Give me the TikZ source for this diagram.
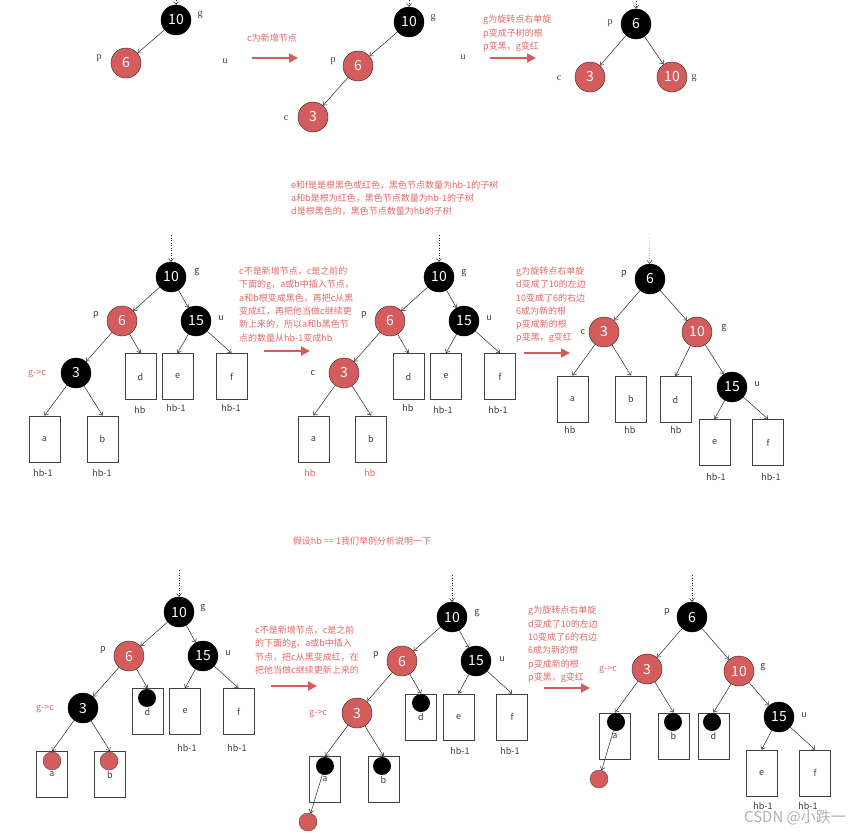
\documentclass[tikz,border=0pt]{standalone}
\usepackage{fontspec}
\setmainfont{Noto Sans CJK SC}
\newfontfamily\tagserif{Liberation Serif}
\usepackage{tikz}
\usetikzlibrary{arrows.meta}
\definecolor{rbred}{RGB}{213,92,92}
\definecolor{notered}{RGB}{226,104,104}
\definecolor{tagdark}{RGB}{60,60,60}
\tikzset{
  blacknode/.style={
    circle,
    fill=black,
    draw=black,
    minimum size=30pt,
    inner sep=0pt,
    text=white,
    font=\fontsize{14}{14}\selectfont
  },
  rednode/.style={
    blacknode,
    fill=rbred,
    draw=black!85
  },
  leafbox/.style={
    rectangle,
    draw=black!75,
    line width=0.9pt,
    minimum width=31pt,
    minimum height=46pt,
    inner sep=0pt,
    text=tagdark,
    font=\fontsize{9}{9}\selectfont
  },
  blackdot/.style={
    circle,
    fill=black,
    minimum size=18pt,
    inner sep=0pt
  },
  reddot/.style={
    blackdot,
    fill=rbred,
    draw=black!70,
    thin
  },
  tag/.style={
    inner sep=0pt,
    text=tagdark,
    font=\fontsize{9}{9}\selectfont
  },
  toptag/.style={
    tag,
    font=\fontsize{10}{10}\tagserif
  },
  redtag/.style={
    tag,
    text=notered
  },
  note/.style={
    inner sep=0pt,
    align=left,
    text=notered,
    font=\fontsize{9}{13.3}\selectfont
  },
  treearrow/.style={
    -{Straight Barb[length=3pt,width=5pt]},
    draw=black!85,
    line width=0.5pt
  },
  entryarrow/.style={
    treearrow,
    dotted
  },
  steparrow/.style={
    -{Triangle[length=9pt,width=9pt]},
    draw=rbred,
    line width=1.8pt
  }
}

\begin{document}
\begin{tikzpicture}[x=1pt,y=-1pt]
\useasboundingbox (0,0) rectangle (856,833);

% ---- first row: c is a new node
\node[blacknode] (gA) at (176,20) {10};
\node[rednode] (pA) at (126,63) {6};
\node[toptag] (tgA) at (200,15) {g};
\node[toptag] (tpA) at (99,58) {p};
\node[toptag] (tuA) at (225,61) {u};
\coordinate (inA) at (176,-20);
\draw[entryarrow] (inA) -- (gA);
\draw[treearrow] (gA) -- (pA);

\coordinate (s1a) at (252,58);
\coordinate (s1b) at (298,58);
\draw[steparrow] (s1a) -- (s1b);
\node[note] (n1) at (272,38) {c为新增节点};

\node[blacknode] (gB) at (409,22) {10};
\node[rednode] (pB) at (358,66) {6};
\node[rednode] (cB) at (313,117) {3};
\node[toptag] (tgB) at (433,18) {g};
\node[toptag] (tpB) at (333,61) {p};
\node[toptag] (tcB) at (286,118) {c};
\node[toptag] (tuB) at (463,57) {u};
\coordinate (inB) at (409,-20);
\draw[entryarrow] (inB) -- (gB);
\draw[treearrow] (gB) -- (pB);
\draw[treearrow] (pB) -- (cB);

\coordinate (s2a) at (490,58);
\coordinate (s2b) at (536,58);
\draw[steparrow] (s2a) -- (s2b);
\node[note, anchor=west] (n2) at (483,33.5) {g为旋转点右单旋\\p变成子树的根\\p变黑，g变红};

\node[blacknode] (pC) at (636,24) {6};
\node[rednode] (cC) at (590,77) {3};
\node[rednode] (gC) at (672,77) {10};
\node[toptag] (tpC) at (610,23) {p};
\node[toptag] (tcC) at (559,78) {c};
\node[toptag] (tgC) at (694,78) {g};
\coordinate (inC) at (636,-14);
\draw[entryarrow] (inC) -- (pC);
\draw[treearrow] (pC) -- (cC);
\draw[treearrow] (pC) -- (gC);

% ---- second row: c came up from below
\node[note, anchor=west] (nM) at (291,198) {e和f是是根黑色或红色，黑色节点数量为hb-1的子树\\a和b是根为红色，黑色节点数量为hb-1的子树\\d是根黑色的，黑色节点数量为hb的子树};

\node[blacknode] (gD) at (171,277) {10};
\node[rednode] (pD) at (122,321) {6};
\node[blacknode] (uD) at (196,321) {15};
\node[blacknode] (cD) at (76,373) {3};
\node[leafbox] (dD) at (140.5,376.5) {d};
\node[leafbox] (eD) at (177.5,376.5) {e};
\node[leafbox] (fD) at (231.5,376.5) {f};
\node[leafbox] (aD) at (44.5,439) {a};
\node[leafbox] (bD) at (102.5,439) {b};
\node[tag] (tgD) at (197,272) {g};
\node[tag] (tpD) at (96,315) {p};
\node[tag] (tuD) at (221,318) {u};
\node[redtag] (tcD) at (37,374) {g->c};
\node[tag] (hdD) at (140,410) {hb};
\node[tag] (heD) at (176,408) {hb-1};
\node[tag] (hfD) at (231,408) {hb-1};
\node[tag] (haD) at (43,473) {hb-1};
\node[tag] (hbD) at (102,473) {hb-1};
\coordinate (inD) at (171,235);
\draw[entryarrow] (inD) -- (gD);
\draw[treearrow] (gD) -- (pD);
\draw[treearrow] (gD) -- (uD);
\draw[treearrow] (pD) -- (cD);
\draw[treearrow] (pD) -- (dD.north);
\draw[treearrow] (uD) -- (eD.north);
\draw[treearrow] (uD) -- (fD.north);
\draw[treearrow] (cD) -- (aD.north);
\draw[treearrow] (cD) -- (bD.north);

\node[note, anchor=west] (nD) at (239,304.5) {c不是新增节点，c是之前的\\下面的g，a或b中插入节点，\\a和b根变成黑色，再把c从黑\\变成红，再把他当做c继续更\\新上来的，所以a和b黑色节\\点的数量从hb-1变成hb};
\coordinate (s3a) at (264,351);
\coordinate (s3b) at (310,351);
\draw[steparrow] (s3a) -- (s3b);

\node[blacknode] (gE) at (439,277) {10};
\node[rednode] (pE) at (390,321) {6};
\node[blacknode] (uE) at (464,321) {15};
\node[rednode] (cE) at (344,373) {3};
\node[leafbox] (dE) at (408.5,376.5) {d};
\node[leafbox] (eE) at (446,376.5) {e};
\node[leafbox] (fE) at (500,376.5) {f};
\node[leafbox] (aE) at (313.5,439) {a};
\node[leafbox] (bE) at (371,439) {b};
\node[tag] (tgE) at (464,273) {g};
\node[tag] (tpE) at (364,315) {p};
\node[tag] (tuE) at (489,318) {u};
\node[tag] (tcE) at (313,373) {c};
\node[tag] (hdE) at (408,408) {hb};
\node[tag] (heE) at (443,410) {hb-1};
\node[tag] (hfE) at (498,410) {hb-1};
\node[redtag] (haE) at (310,473) {hb};
\node[redtag] (hbE) at (370,473) {hb};
\coordinate (inE) at (439,235);
\draw[entryarrow] (inE) -- (gE);
\draw[treearrow] (gE) -- (pE);
\draw[treearrow] (gE) -- (uE);
\draw[treearrow] (pE) -- (cE);
\draw[treearrow] (pE) -- (dE.north);
\draw[treearrow] (uE) -- (eE.north);
\draw[treearrow] (uE) -- (fE.north);
\draw[treearrow] (cE) -- (aE.north);
\draw[treearrow] (cE) -- (bE.north);

\node[note, anchor=west] (nE) at (516,305) {g为旋转点右单旋\\d变成了10的左边\\10变成了6的右边\\6成为新的根\\p变成新的根\\p变黑，g变红};
\coordinate (s4a) at (524,353);
\coordinate (s4b) at (570,353);
\draw[steparrow] (s4a) -- (s4b);

\node[blacknode] (pF) at (650,279) {6};
\node[rednode] (cF) at (604,332) {3};
\node[rednode] (gF) at (697,332) {10};
\node[blacknode] (uF) at (732,387) {15};
\node[leafbox] (aF) at (572.5,399) {a};
\node[leafbox] (bF) at (631,399) {b};
\node[leafbox] (dF) at (675.5,399.5) {d};
\node[leafbox] (eF) at (714.5,442.5) {e};
\node[leafbox] (fF) at (768,442.5) {f};
\node[tag] (tpF) at (624,274) {p};
\node[tag] (tcF) at (583,332) {c};
\node[tag] (tgF) at (724,328) {g};
\node[tag] (tuF) at (757,384) {u};
\node[tag] (haF) at (570,430) {hb};
\node[tag] (hbF) at (630,430) {hb};
\node[tag] (hdF) at (676,430) {hb};
\node[tag] (heF) at (716,477) {hb-1};
\node[tag] (hfF) at (771,477) {hb-1};
\coordinate (inF) at (649,238);
\draw[entryarrow] (inF) -- (pF);
\draw[treearrow] (pF) -- (cF);
\draw[treearrow] (pF) -- (gF);
\draw[treearrow] (cF) -- (aF.north);
\draw[treearrow] (cF) -- (bF.north);
\draw[treearrow] (gF) -- (dF.north);
\draw[treearrow] (gF) -- (uF);
\draw[treearrow] (uF) -- (eF.north);
\draw[treearrow] (uF) -- (fF.north);

% ---- third row: hb == 1
\node[note] (nB) at (362,541) {假设hb == 1我们举例分析说明一下};

\node[blacknode] (gG) at (179,612) {10};
\node[rednode] (pG) at (129,656) {6};
\node[blacknode] (uG) at (203,656) {15};
\node[blacknode] (cG) at (83,708) {3};
\node[leafbox] (dG) at (147.5,711.5) {d};
\node[leafbox] (eG) at (185,711.5) {e};
\node[leafbox] (fG) at (238.5,711.5) {f};
\node[leafbox] (aG) at (52,774.5) {a};
\node[leafbox] (bG) at (110,774.5) {b};
\node[tag] (tgG) at (203,608) {g};
\node[tag] (tpG) at (103,650) {p};
\node[tag] (tuG) at (228,653) {u};
\node[redtag] (tcG) at (45,709) {g->c};
\node[tag] (heG) at (187,748) {hb-1};
\node[tag] (hfG) at (237,748) {hb-1};
\coordinate (inG) at (179,570);
\draw[entryarrow] (inG) -- (gG);
\draw[treearrow] (gG) -- (pG);
\draw[treearrow] (gG) -- (uG);
\draw[treearrow] (pG) -- (cG);
\draw[treearrow] (pG) -- (dG.north);
\draw[treearrow] (uG) -- (eG.north);
\draw[treearrow] (uG) -- (fG.north);
\draw[treearrow] (cG) -- (aG.north);
\draw[treearrow] (cG) -- (bG.north);
\node[blackdot] (ddG) at (147,698) {};
\node[reddot] (daG) at (52,761) {};
\node[reddot] (dbG) at (109,761) {};

\node[note, anchor=west] (nG) at (255,650) {c不是新增节点，c是之前\\的下面的g，a或b中插入\\节点，把c从黑变成红，在\\把他当做c继续更新上来的};
\coordinate (s5a) at (271,686);
\coordinate (s5b) at (317,686);
\draw[steparrow] (s5a) -- (s5b);

\node[blacknode] (gH) at (452,617) {10};
\node[rednode] (pH) at (402,661) {6};
\node[blacknode] (uH) at (476,661) {15};
\node[rednode] (cH) at (357,713) {3};
\node[leafbox] (dH) at (421,717) {d};
\node[leafbox] (eH) at (458.5,717) {e};
\node[leafbox] (fH) at (512,717) {f};
\node[leafbox] (aH) at (325,779.5) {a};
\node[leafbox] (bH) at (383.5,779.5) {b};
\node[tag] (tgH) at (477,613) {g};
\node[tag] (tpH) at (376,655) {p};
\node[tag] (tuH) at (502,659) {u};
\node[redtag] (tcH) at (318,714) {g->c};
\node[tag] (heH) at (460,751) {hb-1};
\node[tag] (hfH) at (510,751) {hb-1};
\coordinate (inH) at (452,575);
\draw[entryarrow] (inH) -- (gH);
\draw[treearrow] (gH) -- (pH);
\draw[treearrow] (gH) -- (uH);
\draw[treearrow] (pH) -- (cH);
\draw[treearrow] (pH) -- (dH.north);
\draw[treearrow] (uH) -- (eH.north);
\draw[treearrow] (uH) -- (fH.north);
\draw[treearrow] (cH) -- (aH.north);
\draw[treearrow] (cH) -- (bH.north);
\node[blackdot] (ddH) at (421,703) {};
\node[blackdot] (daH) at (325,766) {};
\node[blackdot] (dbH) at (382,766) {};
\node[reddot] (newH) at (308,822) {};
\draw[treearrow] (daH) -- (newH);

\node[note, anchor=west] (nH) at (528,644.5) {g为旋转点右单旋\\d变成了10的左边\\10变成了6的右边\\6成为新的根\\p变成新的根\\p变黑，g变红};
\coordinate (s6a) at (544,688);
\coordinate (s6b) at (590,688);
\draw[steparrow] (s6a) -- (s6b);

\node[blacknode] (pI) at (692,617) {6};
\node[rednode] (cI) at (647,669) {3};
\node[rednode] (gI) at (739,671) {10};
\node[blacknode] (uI) at (779,717) {15};
\node[leafbox] (aI) at (615,736) {a};
\node[leafbox] (bI) at (673.5,736) {b};
\node[leafbox] (dI) at (713.5,736) {d};
\node[leafbox] (eI) at (761.5,773) {e};
\node[leafbox] (fI) at (815,773) {f};
\node[tag] (tpI) at (667,612) {p};
\node[redtag] (tcI) at (608,670) {g->c};
\node[tag] (tgI) at (763,667) {g};
\node[tag] (tuI) at (804,715) {u};
\node[tag] (heI) at (763,806) {hb-1};
\node[tag] (hfI) at (808,806) {hb-1};
\coordinate (inI) at (692,575);
\draw[entryarrow] (inI) -- (pI);
\draw[treearrow] (pI) -- (cI);
\draw[treearrow] (pI) -- (gI);
\draw[treearrow] (cI) -- (aI.north);
\draw[treearrow] (cI) -- (bI.north);
\draw[treearrow] (gI) -- (dI.north);
\draw[treearrow] (gI) -- (uI);
\draw[treearrow] (uI) -- (eI.north);
\draw[treearrow] (uI) -- (fI.north);
\node[blackdot] (daI) at (616,722) {};
\node[blackdot] (dbI) at (673,722) {};
\node[blackdot] (ddI) at (712,722) {};
\node[reddot] (newI) at (599,779) {};
\draw[treearrow] (daI) -- (newI);

\node[inner sep=0pt, text=black!30, font=\fontsize{15}{15}\selectfont] (mark) at (795,818) {CSDN @小跌一};
\end{tikzpicture}
\end{document}
